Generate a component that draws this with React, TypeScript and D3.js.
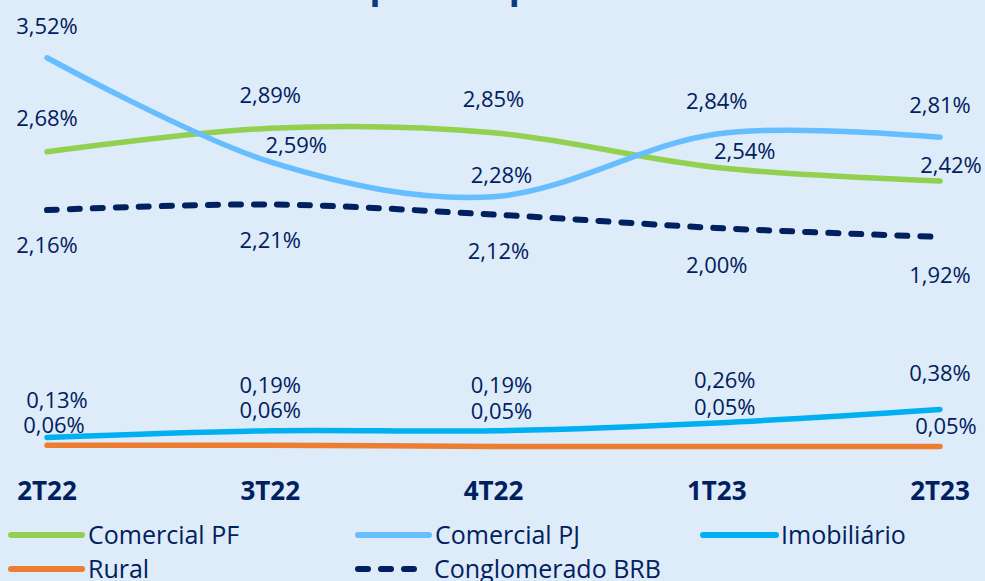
import React from "react";
import * as d3 from "d3";

const categories = ["2T22", "3T22", "4T22", "1T23", "2T23"];
const comercialPF = [2.68, 2.89, 2.85, 2.54, 2.42];
const comercialPJ = [3.52, 2.59, 2.28, 2.84, 2.81];
const imobiliario = [0.13, 0.19, 0.19, 0.26, 0.38];
const rural = [0.06, 0.06, 0.05, 0.05, 0.05];
const conglomerado = [2.16, 2.21, 2.12, 2.0, 1.92];
const seriesNames = ["Comercial PF", "Comercial PJ", "Imobiliário", "Rural", "Conglomerado BRB"];
const titleText = "Inadimplência por carteira";

// label offsets (layout only): [dx, dy] from point to label centre
const labelOffsets: number[][][] = [
  [[0, -34], [0, -33], [0, -34], [28, -17], [11, -16]],
  [[0, -32], [26, -17], [8, -22], [0, -33], [0, -32]],
  [[10, -37], [0, -46], [8, -46], [8, -43], [0, -36]],
  [[7, -20], [0, -35], [8, -35], [8, -39], [6, -20]],
  [[0, 35], [0, 36], [5, 36], [0, 37], [0, 38]],
];

const W = 985;
const H = 581;
const TEXT = "#002060";
const FONT = "'Open Sans', sans-serif";

const styles = [
  { color: "#92D050", dash: undefined as string | undefined },
  { color: "#66BEFF", dash: undefined },
  { color: "#00B0F0", dash: undefined },
  { color: "#ED7D31", dash: undefined },
  { color: "#002060", dash: "10,13" },
];

const legendPos = [
  { x: 11, y: 535, len: 71, tx: 88 },
  { x: 358, y: 535, len: 71, tx: 435 },
  { x: 703, y: 535, len: 73, tx: 781 },
  { x: 11, y: 569, len: 71, tx: 88 },
  { x: 358, y: 569, len: 62, tx: 434 },
];

const fmt = (v: number) => v.toFixed(2).replace(".", ",") + "%";

export default function App() {
  const x = d3.scalePoint<string>().domain(categories).range([47, 940]);
  const y = d3.scaleLinear().domain([0, 4]).range([452, 4]);
  const data = [comercialPF, comercialPJ, imobiliario, rural, conglomerado];
  const line = d3
    .line<number>()
    .x((_, i) => x(categories[i]) as number)
    .y((d) => y(d))
    .curve(d3.curveCardinal.tension(0));

  const order = [3, 2, 4, 0, 1];

  return (
    <svg
      width={W}
      height={H}
      style={{ position: "absolute", left: 0, top: 0, display: "block" }}
      fontFamily={FONT}
    >
      <rect x={0} y={0} width={W} height={H} fill="#DEEBF8" />
      <text x={243} y={-2.5} fontSize={36} fontWeight={700} fill="#0B3A7E">
        {titleText}
      </text>
      {order.map((si) => (
        <path
          key={"l" + si}
          d={line(data[si]) || ""}
          fill="none"
          stroke={styles[si].color}
          strokeWidth={si === 4 ? 6 : 5.5}
          strokeLinecap="round"
          strokeDasharray={styles[si].dash}
        />
      ))}
      {data.map((vals, si) =>
        vals.map((v, i) => (
          <text
            key={"t" + si + "-" + i}
            x={(x(categories[i]) as number) + labelOffsets[si][i][0]}
            y={y(v) + labelOffsets[si][i][1] + 8}
            fontSize={22}
            fill={TEXT}
            textAnchor="middle"
          >
            {fmt(v)}
          </text>
        ))
      )}
      {categories.map((c) => (
        <text
          key={"c" + c}
          x={x(c) as number}
          y={500}
          fontSize={26}
          fontWeight={700}
          fill={TEXT}
          textAnchor="middle"
        >
          {c}
        </text>
      ))}
      {seriesNames.map((n, si) => (
        <g key={"lg" + si}>
          <line
            x1={legendPos[si].x}
            x2={legendPos[si].x + legendPos[si].len}
            y1={legendPos[si].y}
            y2={legendPos[si].y}
            stroke={styles[si].color}
            strokeWidth={6}
            strokeLinecap="round"
            strokeDasharray={styles[si].dash}
          />
          <text
            x={legendPos[si].tx}
            y={legendPos[si].y + 9}
            fontSize={25}
            fill={TEXT}
          >
            {n}
          </text>
        </g>
      ))}
    </svg>
  );
}
